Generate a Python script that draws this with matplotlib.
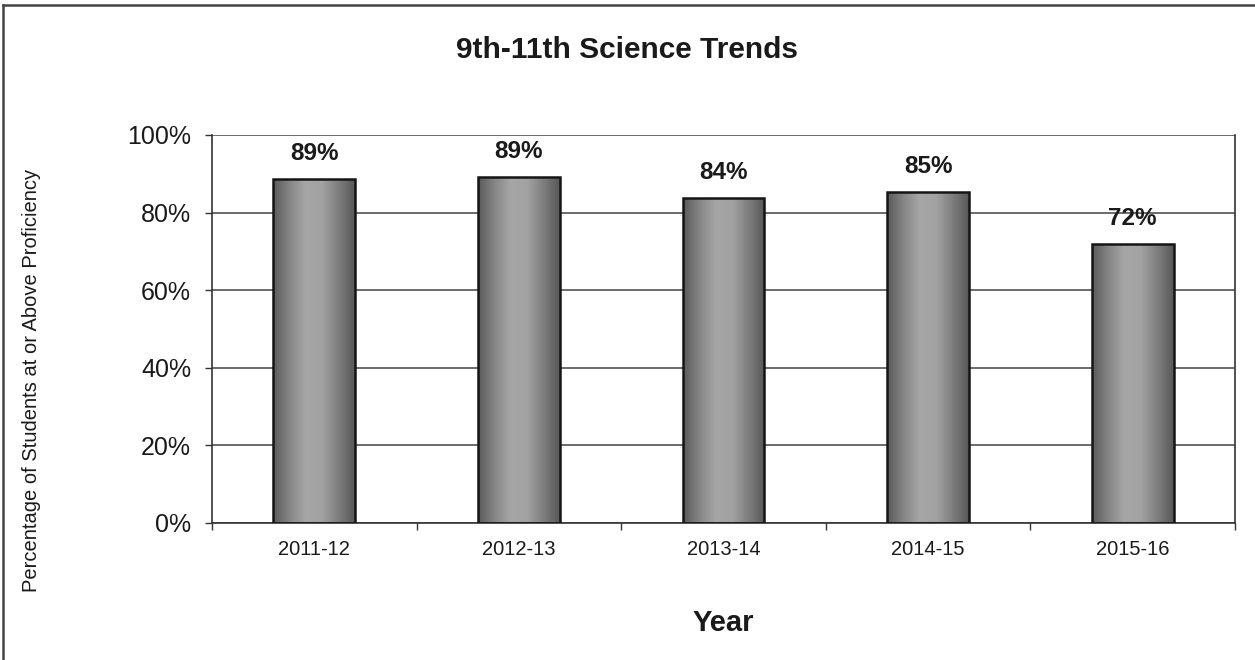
import numpy as np
import matplotlib
matplotlib.use("Agg")
import matplotlib.pyplot as plt
from matplotlib.lines import Line2D
from matplotlib.colors import LinearSegmentedColormap

plt.rcParams['font.family'] = ['Liberation Sans', 'DejaVu Sans']

years = ["2011-12", "2012-13", "2013-14", "2014-15", "2015-16"]
values = [88.7, 89.2, 83.8, 85.3, 71.9]
labels = ["89%", "89%", "84%", "85%", "72%"]
yticks = [0, 20, 40, 60, 80, 100]
ytick_labels = ["0%", "20%", "40%", "60%", "80%", "100%"]

W, H = 1255, 660
fig = plt.figure(figsize=(W / 100, H / 100), dpi=100)
ax = fig.add_axes([212 / W, 1 - 523 / H, (1235 - 212) / W, (523 - 135) / H])

x = np.arange(len(years))
bars = ax.bar(x, values, width=0.40, color='none', edgecolor='#151515', linewidth=1.8, zorder=3)

# horizontal gradient inside each bar
cmap = LinearSegmentedColormap.from_list('g', ['#5a5a5a', '#858585', '#a6a6a6', '#a2a2a2', '#7e7e7e', '#585858'])
grad = np.linspace(0, 1, 256).reshape(1, -1)
for b in bars:
    x0, y0 = b.get_x(), b.get_y()
    w, h = b.get_width(), b.get_height()
    im = ax.imshow(grad, cmap=cmap, aspect='auto', extent=(x0, x0 + w, y0, y0 + h), zorder=2, interpolation='bicubic')
    im.set_clip_path(b)

for xi, v, lab in zip(x, values, labels):
    ax.annotate(lab, (xi, v), xytext=(0, 10), textcoords='offset points', ha='center', va='bottom',
                fontsize=17.5, fontweight='bold', color='#1a1a1a')

ax.set_xlim(-0.5, len(years) - 0.5)
ax.set_ylim(0, 100)
ax.set_yticks(yticks)
ax.set_yticklabels(ytick_labels, fontsize=18, color='#1a1a1a')
ax.set_xticks(x)
ax.set_xticklabels(years, fontsize=14.5, color='#1a1a1a')
ax.set_xticks(np.arange(len(years) + 1) - 0.5, minor=True)
ax.tick_params(axis='x', which='major', length=0, pad=12)
ax.tick_params(axis='x', which='minor', length=5, width=1, color='#333333', direction='out')
ax.tick_params(axis='y', which='major', length=5, width=1, color='#333333', pad=10)

ax.yaxis.grid(True, color='#444444', linewidth=1.1, zorder=0)
ax.set_axisbelow(True)
for s in ['left', 'bottom', 'right']:
    ax.spines[s].set_color('#333333')
    ax.spines[s].set_linewidth(1.2)
ax.spines['top'].set_visible(False)

fig.text(627 / W, 1 - 50 / H, "9th-11th Science Trends", ha='center', va='center',
         fontsize=21.5, fontweight='bold', color='#1a1a1a')
fig.text(723 / W, 1 - 623 / H, "Year", ha='center', va='center',
         fontsize=21, fontweight='bold', color='#1a1a1a')
fig.text(32 / W, 1 - 380 / H, "Percentage of Students at or Above Proficiency", ha='center', va='center',
         rotation=90, fontsize=14.5, color='#1a1a1a')

# outer frame
fig.add_artist(Line2D([3 / W, 3 / W], [0, 1 - 5 / H], transform=fig.transFigure, color='#444444', linewidth=1.8))
fig.add_artist(Line2D([3 / W, 1], [1 - 5 / H, 1 - 5 / H], transform=fig.transFigure, color='#444444', linewidth=1.8))

fig.savefig("out.png", dpi=100)
